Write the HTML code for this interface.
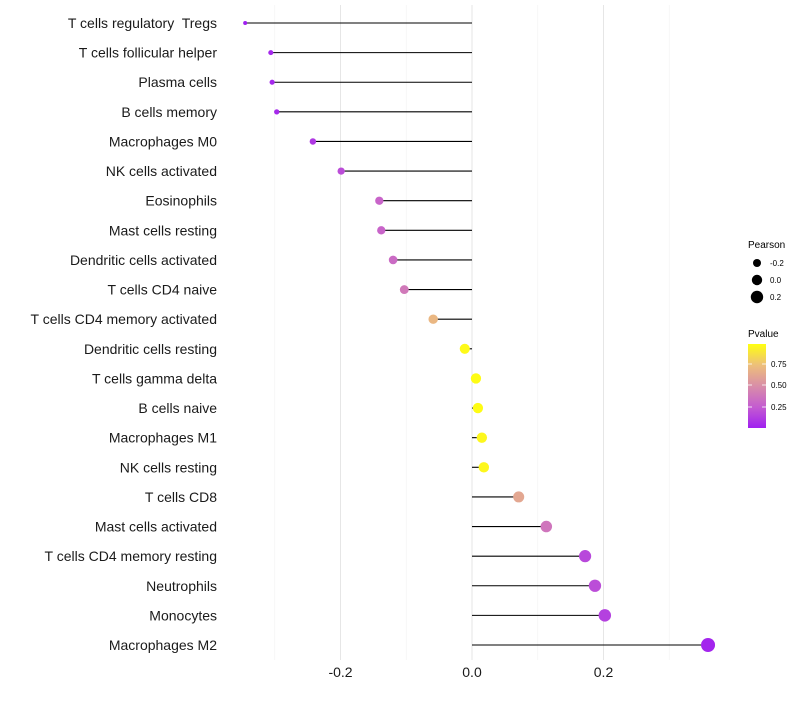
<!DOCTYPE html>
<html><head><meta charset="utf-8"><style>
body{margin:0;background:#fff;font-family:"Liberation Sans",sans-serif}
svg text{font-family:"Liberation Sans",sans-serif}
</style></head><body>
<svg id="chart" width="800" height="700" xmlns="http://www.w3.org/2000/svg">
<defs><linearGradient id="pg" x1="0" y1="1" x2="0" y2="0">
<stop offset="0" stop-color="#a020f0"/><stop offset="0.25" stop-color="#c45cd0"/><stop offset="0.5" stop-color="#d98ea8"/><stop offset="0.75" stop-color="#edbf7a"/><stop offset="1" stop-color="#ffff10"/></linearGradient></defs>
<g id="grid"></g><g id="marks"></g><g id="ylabels"></g><g id="xticks"></g>
<g>
<text x="748" y="248" font-size="10">Pearson</text>
<circle cx="757" cy="263" r="4" fill="#000"/>
<circle cx="757" cy="280" r="5.2" fill="#000"/>
<circle cx="757" cy="297" r="6.2" fill="#000"/>
<text x="770" y="266" font-size="8">-0.2</text>
<text x="770" y="283" font-size="8">0.0</text>
<text x="770" y="300" font-size="8">0.2</text>
<text x="748" y="337" font-size="10">Pvalue</text>
<rect x="748" y="344" width="18" height="84" fill="url(#pg)"/>
<g stroke="#fff" stroke-width="0.8"><line x1="748" y1="364" x2="752" y2="364"/><line x1="762" y1="364" x2="766" y2="364"/><line x1="748" y1="385" x2="752" y2="385"/><line x1="762" y1="385" x2="766" y2="385"/><line x1="748" y1="407" x2="752" y2="407"/><line x1="762" y1="407" x2="766" y2="407"/></g>
<text x="771" y="367" font-size="8">0.75</text>
<text x="771" y="388" font-size="8">0.50</text>
<text x="771" y="410" font-size="8">0.25</text>
</g>
</svg>
<script>
const categories=["T cells regulatory  Tregs","T cells follicular helper","Plasma cells","B cells memory","Macrophages M0","NK cells activated","Eosinophils","Mast cells resting","Dendritic cells activated","T cells CD4 naive","T cells CD4 memory activated","Dendritic cells resting","T cells gamma delta","B cells naive","Macrophages M1","NK cells resting","T cells CD8","Mast cells activated","T cells CD4 memory resting","Neutrophils","Monocytes","Macrophages M2"];
const pearson=[-0.345,-0.306,-0.304,-0.297,-0.242,-0.199,-0.141,-0.138,-0.120,-0.103,-0.059,-0.011,0.006,0.009,0.015,0.018,0.071,0.113,0.172,0.187,0.202,0.359];
const pvalue=[0.02,0.05,0.05,0.06,0.12,0.2,0.3,0.3,0.33,0.4,0.7,0.96,0.97,0.97,0.95,0.95,0.62,0.38,0.18,0.2,0.15,0.04];
const xTicks=[-0.2,0,0.2];
const xTickLabels=["-0.2","0.0","0.2"];
const minorTicks=[-0.3,-0.1,0.1,0.3];
const NS="http://www.w3.org/2000/svg";
const xS=v=>472+v*657.5;
const yS=i=>23+i*(645-23)/(categories.length-1);
const pmin=Math.min(...pearson),pmax=Math.max(...pearson);
const rS=v=>Math.sqrt(4+(v-pmin)/(pmax-pmin)*45);
const stops=[[160,32,240],[196,92,208],[217,142,168],[237,191,122],[255,255,16]];
function col(p){let t=Math.max(0,Math.min(1,(p-0.02)/0.96))*4;let i=Math.min(3,Math.floor(t)),f=t-i;
 return "rgb("+stops[i].map((c,k)=>Math.round(c+(stops[i+1][k]-c)*f)).join(",")+")";}
function mk(tag,attrs,parent){const e=document.createElementNS(NS,tag);for(const k in attrs)e.setAttribute(k,attrs[k]);document.getElementById(parent).appendChild(e);return e;}
minorTicks.forEach(v=>{const l=mk("line",{x1:xS(v),x2:xS(v),y1:5,y2:660,stroke:"#f2f2f2","stroke-width":0.6},"grid");

});
xTicks.forEach((v,i)=>{const l=mk("line",{x1:xS(v),x2:xS(v),y1:5,y2:660,stroke:"#e6e6e6","stroke-width":1},"grid");


const t=mk("text",{x:xS(v),y:677,"font-size":14,"text-anchor":"middle",fill:"#1a1a1a"},"xticks");t.textContent=xTickLabels[i];

});
categories.forEach((c,i)=>{const y=yS(i);
const l=mk("line",{x1:xS(0),x2:xS(pearson[i]),y1:y,y2:y,stroke:"#000","stroke-width":1.1},"marks");


const d=mk("circle",{cx:xS(pearson[i]),cy:y,r:rS(pearson[i]),fill:col(pvalue[i])},"marks");


const t=mk("text",{x:217,y:y+5,"font-size":14,"text-anchor":"end",fill:"#1a1a1a"},"ylabels");t.textContent=c;t.setAttribute("xml:space","preserve");t.style.whiteSpace="pre";

});
</script>
</body></html>
